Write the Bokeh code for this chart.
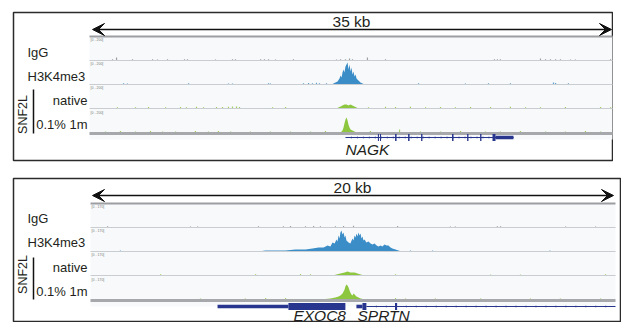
import numpy as np
from bokeh.plotting import figure
from bokeh.layouts import column
from bokeh.models import Range1d, Arrow, VeeHead
from bokeh.core.properties import value
from bokeh.embed import file_html
from bokeh.resources import INLINE

FONT = "Liberation Sans"
TXT = "#231f20"
C_IGG = "#8a8a8a"
C_H3 = "#3b8dc7"
C_SNF = "#8dc63f"
C_GENE = "#27358e"
VMAX = 200.0

track_names = ["IgG", "H3K4me3", "native", "0.1% 1m"]
group_name = "SNF2L"

# ---------------- Panel 1 (NAGK locus, 35 kb) ----------------
p1_span_kb = 35
p1_span_label = "35 kb"
p1_scale_label = "[0 - 200]"

p1_igg_blip_kb = [1.54, 1.81, 2.88, 4.22, 4.55, 5.22, 6.36, 6.56, 8.43, 9.57, 9.77, 11.45, 11.71, 11.98, 12.45,
                  13.65, 16.53, 16.80, 17.13, 17.40, 17.60, 18.60, 19.81, 27.10, 27.30, 27.50, 30.18, 30.52,
                  30.85, 31.19, 31.52, 32.19, 32.52, 34.87]
p1_igg_blip_val = [10, 25, 10, 10, 8, 10, 10, 10, 8, 10, 10, 10, 10, 10, 8, 10, 8, 10, 10, 17, 10, 25, 10, 10,
                   10, 10, 17, 10, 10, 10, 10, 8, 8, 10]

p1_h3_peak_kb = [16.20, 16.33, 16.46, 16.60, 16.73, 16.80, 16.87, 16.93, 17.00, 17.06, 17.13, 17.20, 17.27, 17.33,
                 17.40, 17.47, 17.53, 17.60, 17.67, 17.73, 17.80, 17.87, 17.93, 18.00, 18.07, 18.13, 18.27, 18.40]
p1_h3_peak_val = [0, 8, 17, 25, 50, 75, 58, 100, 125, 100, 150, 167, 183, 125, 167, 108, 142, 83, 108, 67, 83,
                  50, 42, 33, 25, 17, 8, 0]
p1_h3_blip_kb = [2.28, 2.54, 6.63, 9.30, 9.57, 11.98, 12.11, 14.32, 14.66, 14.92, 15.19, 15.39, 15.86, 22.02,
                 25.16, 26.70, 28.17, 31.05, 31.19, 32.05]
p1_h3_blip_val = [10, 8, 10, 8, 8, 10, 8, 10, 12, 10, 15, 10, 10, 10, 8, 10, 10, 17, 12, 10]

p1_nat_peak_kb = [16.53, 16.66, 16.80, 16.93, 17.06, 17.20, 17.33, 17.47, 17.60, 17.73, 17.87, 18.00]
p1_nat_peak_val = [0, 8, 17, 25, 33, 33, 25, 33, 25, 17, 8, 0]
p1_nat_blip_kb = [1.87, 3.08, 3.95, 5.09, 6.09, 6.49, 7.16, 7.63, 8.50, 8.90, 9.30, 9.57, 9.84, 10.04, 12.25,
                  13.12, 18.67, 19.81, 20.48, 21.48, 22.49, 23.49, 24.49, 25.50, 26.84, 28.17, 29.18, 30.18,
                  31.85, 34.20, 34.87]
p1_nat_blip_val = [10, 10, 12, 10, 12, 10, 15, 10, 12, 12, 15, 17, 17, 12, 10, 12, 10, 15, 12, 15, 10, 12, 10,
                   12, 12, 15, 10, 10, 12, 12, 10]

p1_m1_peak_kb = [16.53, 16.80, 16.93, 17.00, 17.06, 17.13, 17.20, 17.27, 17.33, 17.40, 17.47, 17.60, 17.73,
                 17.87, 18.00]
p1_m1_peak_val = [0, 8, 25, 50, 83, 117, 133, 108, 75, 50, 33, 25, 17, 8, 0]
p1_m1_blip_kb = [1.07, 2.07, 3.08, 4.08, 4.89, 5.76, 7.09, 7.96, 8.63, 9.44, 10.77, 12.11, 13.45, 14.79, 15.79,
                 18.80, 20.75, 22.15, 23.49, 24.83, 26.50, 27.50, 28.84, 30.52, 31.85, 33.19, 34.20]
p1_m1_blip_val = [17, 20, 17, 20, 17, 17, 20, 17, 20, 17, 17, 17, 17, 17, 20, 20, 33, 17, 17, 20, 17, 17, 20,
                  17, 17, 20, 17]

p1_gene_names = ["NAGK"]
p1_gene_name_kb = [17.13]
p1_line_start_kb = [17.13]
p1_line_end_kb = [28.37]
p1_exon_start_kb = [19.30, 19.44, 20.45, 21.32, 22.19, 24.26, 25.27, 26.14, 26.97, 27.17]
p1_exon_end_kb = [19.37, 19.51, 20.55, 21.42, 22.28, 24.36, 25.36, 26.23, 27.17, 28.37]
p1_exon_kind = ["cds", "cds", "cds", "cds", "cds", "cds", "cds", "cds", "cds", "utr"]

# ---------------- Panel 2 (EXOC8 / SPRTN locus, 20 kb) ----------------
p2_span_kb = 20
p2_span_label = "20 kb"
p2_scale_label = "[0 - 170]"

p2_igg_blip_kb = [0.65, 3.81, 4.08, 6.40, 7.35, 7.62, 8.19, 8.50, 8.76, 9.33, 9.64, 10.02, 11.70, 13.71, 13.90,
                  15.50, 15.62, 18.10, 19.24]
p2_igg_blip_val = [10, 8, 8, 10, 10, 12, 10, 12, 10, 10, 12, 15, 12, 8, 8, 10, 10, 8, 8]

p2_h3_peak_kb = [6.40, 6.67, 7.05, 7.43, 7.81, 8.19, 8.46, 8.69, 8.88, 9.03, 9.14, 9.22, 9.30, 9.37, 9.41, 9.45,
                 9.49, 9.52, 9.56, 9.60, 9.64, 9.68, 9.71, 9.75, 9.83, 9.90, 9.98, 10.02, 10.06, 10.10, 10.13,
                 10.17, 10.21, 10.25, 10.29, 10.32, 10.36, 10.40, 10.44, 10.51, 10.59, 10.67, 10.74, 10.82,
                 10.90, 10.97, 11.05, 11.12, 11.20, 11.28, 11.35, 11.43, 11.50, 11.62, 11.73, 11.85]
p2_h3_peak_val = [0, 8, 8, 8, 17, 17, 25, 33, 33, 50, 42, 75, 67, 100, 83, 133, 108, 158, 175, 142, 158, 117,
                  133, 92, 75, 67, 108, 92, 133, 117, 150, 125, 158, 133, 150, 108, 125, 92, 100, 75, 83, 67,
                  58, 67, 50, 42, 50, 42, 58, 50, 50, 33, 25, 17, 8, 0]
p2_h3_blip_kb = [1.14, 12.19, 13.03, 17.50]
p2_h3_blip_val = [8, 8, 8, 8]

p2_nat_peak_kb = [9.22, 9.37, 9.52, 9.68, 9.79, 9.90, 10.06, 10.17, 10.29, 10.44]
p2_nat_peak_val = [0, 8, 17, 25, 33, 25, 25, 17, 8, 0]
p2_nat_blip_kb = [2.67, 6.29, 8.00, 8.38, 11.62, 15.24, 16.38, 19.62]
p2_nat_blip_val = [10, 10, 12, 10, 10, 8, 8, 10]

p2_m1_peak_kb = [8.00, 8.38, 8.76, 9.14, 9.33, 9.45, 9.52, 9.60, 9.68, 9.71, 9.75, 9.79, 9.83, 9.87, 9.90, 9.94,
                 9.98, 10.02, 10.06, 10.13, 10.21, 10.29, 10.44, 10.67, 11.05]
p2_m1_peak_val = [0, 8, 8, 17, 25, 33, 42, 58, 92, 117, 133, 125, 108, 83, 67, 50, 42, 58, 50, 33, 25, 17, 8, 8, 0]
p2_m1_blip_kb = [4.19, 5.90, 6.67, 7.43, 11.62, 12.00, 13.14, 14.86, 16.76, 17.90, 19.43]
p2_m1_blip_val = [17, 17, 20, 20, 20, 17, 17, 17, 17, 17, 17]

p2_gene_names = ["EXOC8", "SPRTN"]
p2_gene_name_kb = [7.73, 10.17]
p2_line_start_kb = [10.51]
p2_line_end_kb = [20.0]
p2_exon_start_kb = [4.84, 7.54, 10.13, 10.36, 11.60]
p2_exon_end_kb = [7.54, 9.71, 10.36, 10.51, 11.68]
p2_exon_kind = ["utr", "cds", "utr", "cds", "cds"]


def build(d, L):
    fl, fr, ft, fb = L["frame"]
    tl, tr = L["track_x"]
    s = (tr - tl) / d["span"]
    p = figure(width=L["width"], height=L["height"],
               x_range=Range1d((fl - tl) / s, (fr - tl) / s),
               y_range=Range1d(fb, ft),
               output_backend="svg", toolbar_location=None,
               x_axis_type=None, y_axis_type=None,
               min_border_left=L["mb_left"], min_border_right=0,
               min_border_top=L["mb_top"], min_border_bottom=L["mb_bottom"])
    p.grid.visible = False
    p.outline_line_color = "#2b2b2b"
    p.outline_line_width = 1.5
    p.background_fill_color = "white"
    p.border_fill_color = "white"
    h = L["track_h"]
    base = L["baselines"]
    p.extra_x_ranges = {"px": Range1d(fl, fr)}
    p.extra_y_ranges = {f"t{i}": Range1d((b - fb) / h * VMAX, (b - ft) / h * VMAX) for i, b in enumerate(base)}

    # track background
    p.quad(left=[tl], right=[tr], top=[L["sep_y"]], bottom=[base[-1] + 6], x_range_name="px",
           fill_color="#f7f9fb", line_color=None)

    # signal tracks
    colors = [C_IGG, C_H3, C_SNF, C_SNF]
    for i, (pk, pv, bk, bv) in enumerate(d["tracks"]):
        if pk is not None:
            p.varea(x=pk, y1=[0] * len(pk), y2=pv, y_range_name=f"t{i}", fill_color=colors[i])
        p.vbar(x=bk, top=bv, bottom=0, width=d["blip_w"], y_range_name=f"t{i}",
               fill_color=colors[i], line_color=None, fill_alpha=0.8)

    # baselines and separator
    p.segment(x0=[tl] * 3, x1=[tr] * 3, y0=base[:3], y1=base[:3], x_range_name="px",
              line_color="#c9ccd1", line_width=1)
    p.segment(x0=[tl], x1=[tr], y0=[base[3]], y1=[base[3]], x_range_name="px",
              line_color="#a6a8ab", line_width=3)
    p.segment(x0=[tl], x1=[tr], y0=[L["sep_y"]], y1=[L["sep_y"]], x_range_name="px",
              line_color="#9c9ea2", line_width=2)

    # tiny data-range labels
    p.text(x=[tl + 1] * 4, y=[b - h + 3 for b in base], text=[d["scale"]] * 4, x_range_name="px",
           text_font=value(FONT), text_font_size="3.5px", text_color="#7a7a7a",
           text_baseline="middle", text_align="left")

    # scale arrow
    ax0, ax1 = L["arrow_x"]
    ay = L["arrow_y"]
    p.add_layout(Arrow(start=VeeHead(size=12, fill_color="#111", line_color="#111"),
                       end=VeeHead(size=12, fill_color="#111", line_color="#111"),
                       x_start=ax0, y_start=ay, x_end=ax1, y_end=ay, x_range_name="px",
                       line_color="#111", line_width=1.5))
    p.text(x=[L["kb_xy"][0]], y=[L["kb_xy"][1]], text=[d["span_label"]], x_range_name="px",
           text_font=value(FONT), text_font_size="15.5px", text_color=TXT,
           text_align="center", text_baseline="alphabetic")

    # track labels
    lx, ly, la = L["label_x"], L["label_y"], L["label_align"]
    for name, x, y, a in zip(track_names, lx, ly, la):
        p.text(x=[x], y=[y], text=[name], x_range_name="px", text_font=value(FONT),
               text_font_size="13px", text_color=TXT, text_align=a, text_baseline="alphabetic")
    p.text(x=[L["group_xy"][0]], y=[L["group_xy"][1]], text=[group_name], x_range_name="px",
           angle=np.pi / 2, text_font=value(FONT), text_font_size="12.5px", text_color=TXT,
           text_align="center", text_baseline="middle")
    bx, by0, by1 = L["bracket"]
    p.segment(x0=[bx], x1=[bx], y0=[by0], y1=[by1], x_range_name="px", line_color="#111", line_width=1.5)

    # gene model
    gy = L["gene_y"]
    p.segment(x0=d["line_s"], x1=d["line_e"], y0=[gy] * len(d["line_s"]), y1=[gy] * len(d["line_s"]),
              line_color=C_GENE, line_width=1)
    half = {"cds": 3.5, "utr": 1.8}
    p.quad(left=d["ex_s"], right=d["ex_e"], top=[gy - half[k] for k in d["ex_k"]],
           bottom=[gy + half[k] for k in d["ex_k"]], fill_color=C_GENE, line_color=None)
    # strand ticks on intron lines (decorative)
    tk = []
    for a, b in zip(d["line_s"], d["line_e"]):
        tk += list(np.arange(a + d["tick_step"], b, d["tick_step"]))
    p.segment(x0=tk, x1=tk, y0=[gy - 1] * len(tk), y1=[gy + 1] * len(tk), line_color=C_GENE,
              line_width=0.8, line_alpha=0.7)
    p.text(x=d["name_kb"], y=[L["gene_name_y"]] * len(d["names"]), text=d["names"],
           text_font=value(FONT), text_font_size="15.5px", text_font_style="italic", text_color=TXT,
           text_align="left", text_baseline="alphabetic")
    return p


d1 = dict(span=p1_span_kb, span_label=p1_span_label, scale=p1_scale_label, blip_w=0.08, tick_step=0.4,
          tracks=[(None, None, p1_igg_blip_kb, p1_igg_blip_val),
                  (p1_h3_peak_kb, p1_h3_peak_val, p1_h3_blip_kb, p1_h3_blip_val),
                  (p1_nat_peak_kb, p1_nat_peak_val, p1_nat_blip_kb, p1_nat_blip_val),
                  (p1_m1_peak_kb, p1_m1_peak_val, p1_m1_blip_kb, p1_m1_blip_val)],
          line_s=p1_line_start_kb, line_e=p1_line_end_kb, ex_s=p1_exon_start_kb, ex_e=p1_exon_end_kb,
          ex_k=p1_exon_kind, names=p1_gene_names, name_kb=p1_gene_name_kb)
L1 = dict(frame=(13, 613, 12, 160), track_x=(89, 612), width=613, height=169, mb_left=13, mb_top=12,
          mb_bottom=9,
          track_h=24, baselines=[60, 84, 108, 133], sep_y=36, arrow_y=29, arrow_x=(92, 611),
          kb_xy=(351, 21), label_x=[27, 27, 87, 87], label_y=[51.5, 75.5, 99.5, 124],
          label_align=["left", "left", "right", "right"], group_xy=(22, 114), bracket=(33, 89, 133),
          gene_y=137, gene_name_y=149)

d2 = dict(span=p2_span_kb, span_label=p2_span_label, scale=p2_scale_label, blip_w=0.045, tick_step=0.38,
          tracks=[(None, None, p2_igg_blip_kb, p2_igg_blip_val),
                  (p2_h3_peak_kb, p2_h3_peak_val, p2_h3_blip_kb, p2_h3_blip_val),
                  (p2_nat_peak_kb, p2_nat_peak_val, p2_nat_blip_kb, p2_nat_blip_val),
                  (p2_m1_peak_kb, p2_m1_peak_val, p2_m1_blip_kb, p2_m1_blip_val)],
          line_s=p2_line_start_kb, line_e=p2_line_end_kb, ex_s=p2_exon_start_kb, ex_e=p2_exon_end_kb,
          ex_k=p2_exon_kind, names=p2_gene_names, name_kb=p2_gene_name_kb)
L2 = dict(frame=(13, 621, 178, 322), track_x=(90, 615), width=621, height=153, mb_left=13, mb_top=9,
          mb_bottom=0,
          track_h=24, baselines=[227, 251, 275, 300], sep_y=203, arrow_y=195, arrow_x=(92, 613),
          kb_xy=(352, 187), label_x=[27, 27, 87, 87], label_y=[218, 242, 266.5, 290.5],
          label_align=["left", "left", "right", "right"], group_xy=(22, 274), bracket=(33, 257, 299),
          gene_y=306, gene_name_y=314.5)

p1 = build(d1, L1)
p2 = build(d2, L2)
layout = column(p1, p2)
open("out.html", "w").write(file_html(layout, INLINE))
